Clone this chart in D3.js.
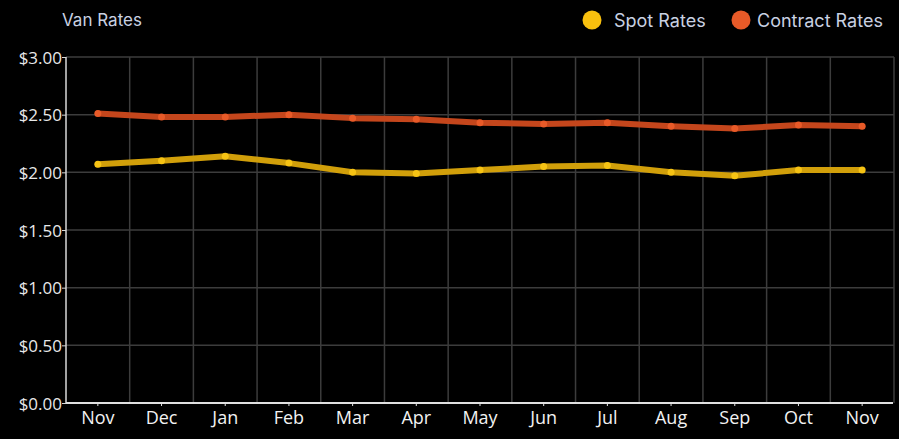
<!DOCTYPE html>
<html><head><meta charset="utf-8">
<script src="https://cdn.jsdelivr.net/npm/d3@7"></script>
<style>
html,body{margin:0;padding:0;background:#000;}
svg{display:block;}
</style></head>
<body><svg id="c" width="899" height="439"></svg>
<script>
const months = ["Nov","Dec","Jan","Feb","Mar","Apr","May","Jun","Jul","Aug","Sep","Oct","Nov"];
const spotRates = [2.07,2.10,2.14,2.08,2.00,1.99,2.02,2.05,2.06,2.00,1.97,2.02,2.02];
const contractRates = [2.51,2.48,2.48,2.50,2.47,2.46,2.43,2.42,2.43,2.40,2.38,2.41,2.40];
const yTicks = [0,0.5,1,1.5,2,2.5,3];
const seriesNames = ["Spot Rates","Contract Rates"];

const svg = d3.select("#c");
const L = 66, R = 894, T = 57, B = 403;
const keys = months.map((m,i)=>i);
const x = d3.scaleBand().domain(keys).range([L,R]).padding(0);
const y = d3.scaleLinear().domain([0,3]).range([B,T]);
const cx = i => x(i) + x.bandwidth()/2;

// grid
const g = svg.append("g");
g.selectAll(".hg").data(yTicks.slice(1)).join("line")
  .attr("x1",L).attr("x2",R).attr("y1",d=>y(d)).attr("y2",d=>y(d))
  .attr("stroke","#3c3c3c").attr("stroke-width",1.5);
g.selectAll(".vg").data(keys.slice(1).concat([13])).join("line")
  .attr("x1",d=>d<13?x(d):R).attr("x2",d=>d<13?x(d):R).attr("y1",T).attr("y2",B)
  .attr("stroke","#3c3c3c").attr("stroke-width",1.5);

// axes
const yAxis = svg.append("g").attr("transform",`translate(${L},0)`)
  .call(d3.axisLeft(y).tickValues(yTicks).tickSize(4).tickFormat(d=>"$"+d.toFixed(2)));
yAxis.select(".domain").attr("stroke","#d8d8d8").attr("stroke-width",1.5).attr("d",`M0,${T}V${B}`);
yAxis.selectAll(".tick line").attr("stroke","#d8d8d8");
yAxis.selectAll("text").attr("fill","#e8e8e8").attr("font-family","'Open Sans',sans-serif").attr("font-size",17).attr("x",-4).attr("dy","0.36em");

const xAxis = svg.append("g").attr("transform",`translate(0,${B})`)
  .call(d3.axisBottom(x).tickSize(3).tickFormat(i=>months[i]));
xAxis.select(".domain").attr("stroke","#e0e0e0").attr("stroke-width",2).attr("d",`M${L},0H${R-1}`);
xAxis.selectAll(".tick line").attr("stroke","#e0e0e0");
xAxis.selectAll("text").attr("fill","#f2f2f2").attr("font-family","'Open Sans',sans-serif").attr("font-size",18).attr("dy",0).attr("y",21);

// lines
const line = d3.line().x((d,i)=>cx(i)).y(d=>y(d));
const series = [
  {vals:contractRates, line:"#c4461c", pt:"#e85a28"},
  {vals:spotRates, line:"#d19f0a", pt:"#f6c314"}
];
series.forEach(s=>{
  svg.append("path").datum(s.vals).attr("d",line).attr("fill","none")
    .attr("stroke",s.line).attr("stroke-width",6).attr("stroke-linejoin","round").attr("stroke-linecap","round");
  svg.append("g").selectAll("circle").data(s.vals).join("circle")
    .attr("cx",(d,i)=>cx(i)).attr("cy",d=>y(d)).attr("r",3.5).attr("fill",s.pt);
});

// title
svg.append("text").attr("x",62).attr("y",26).text("Van Rates")
  .attr("fill","#c9d1e2").attr("font-family","Inter,sans-serif").attr("font-size",17);

// legend
const legend = [
  {name:seriesNames[0], color:"#f9c00e", cx:592, tx:614},
  {name:seriesNames[1], color:"#e85a28", cx:741, tx:757}
];
legend.forEach(l=>{
  svg.append("circle").attr("cx",l.cx).attr("cy",20).attr("r",9.5).attr("fill",l.color);
  svg.append("text").attr("x",l.tx).attr("y",27).text(l.name)
    .attr("fill","#c9d1e2").attr("font-family","Inter,sans-serif").attr("font-size",18);
});
</script></body></html>
